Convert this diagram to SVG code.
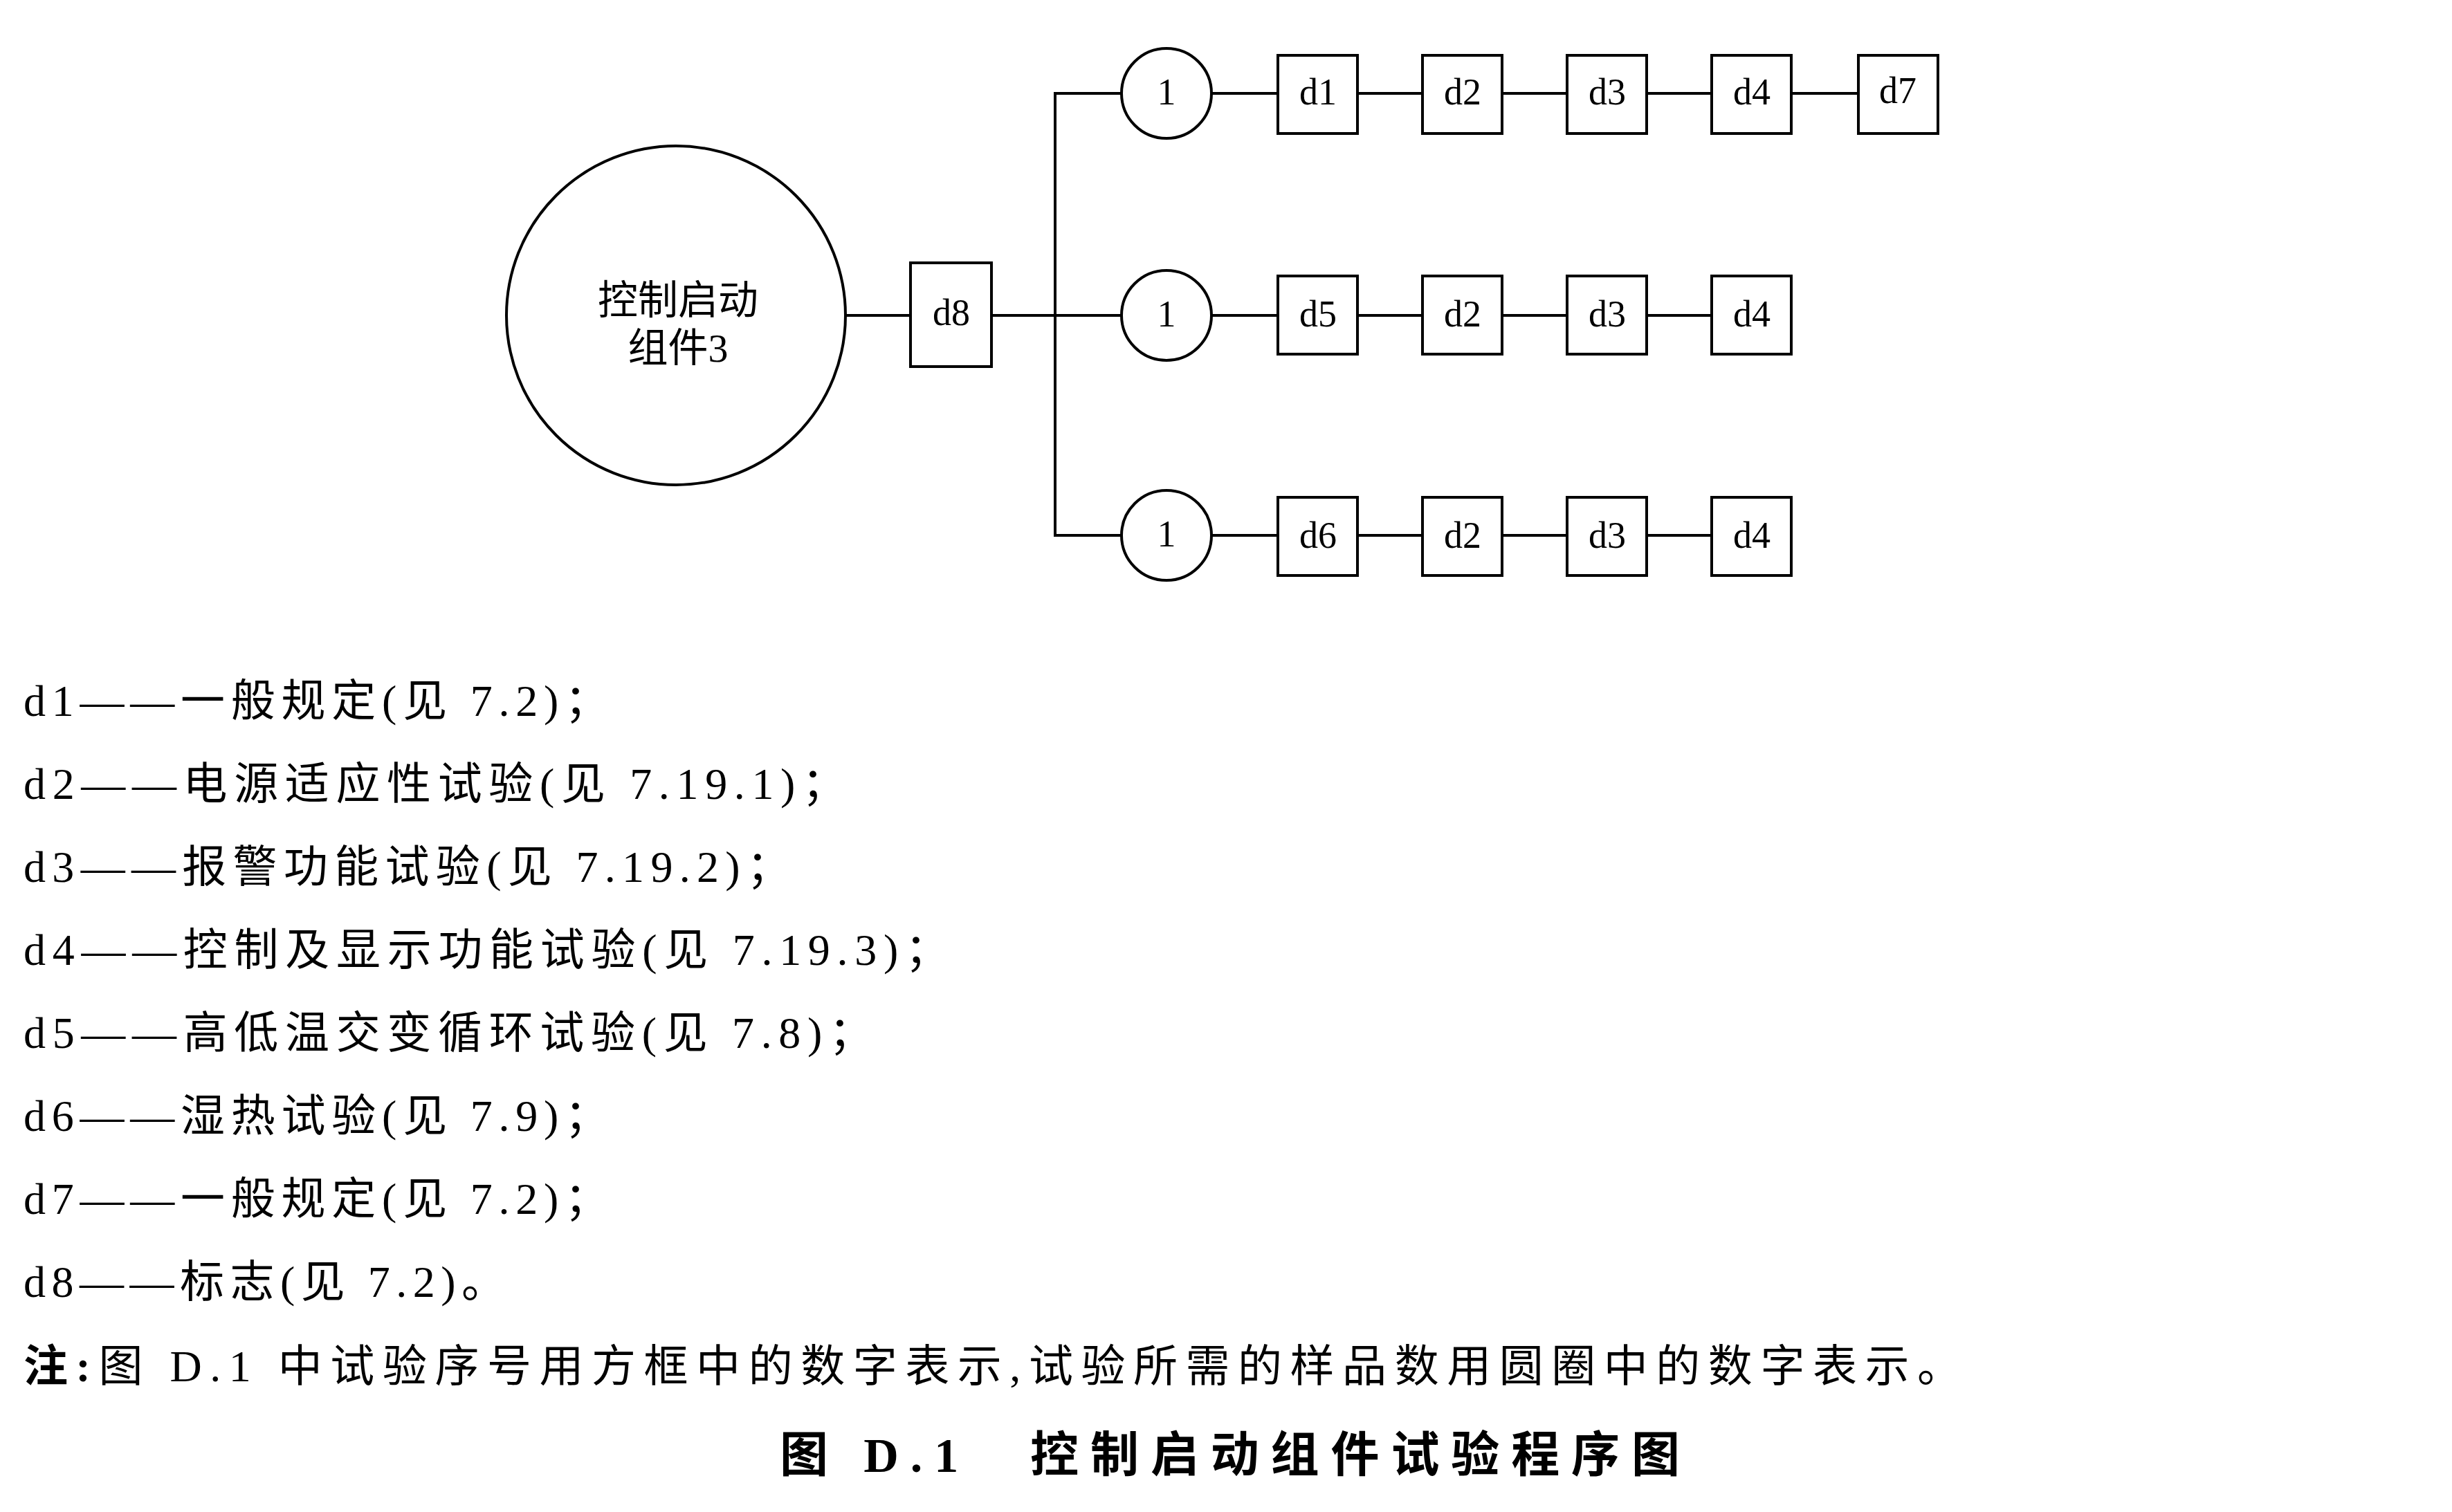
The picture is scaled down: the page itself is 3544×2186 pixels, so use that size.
<svg xmlns="http://www.w3.org/2000/svg" width="3544" height="2186" viewBox="0 0 3544 2186">
<style>
.s{fill:none;stroke:#000;stroke-width:4}
.n{fill:#fff;stroke:#000;stroke-width:4}
.t{font-family:"Liberation Serif","Noto Sans CJK SC",serif;font-size:54px;text-anchor:middle;dominant-baseline:central;fill:#000}
.c{font-family:"Liberation Serif","Noto Sans CJK SC",serif;font-size:58px;text-anchor:middle;fill:#000}
.l{font-family:"Liberation Serif","Noto Sans CJK SC",serif;font-size:64px;fill:#000}
.b{font-family:"Liberation Serif","Noto Sans CJK SC",serif;font-size:70px;font-weight:bold;fill:#000}
</style>
<rect width="3544" height="2186" fill="#fff"/>
<g id="connectors" class="s">
<line x1="1222" y1="456" x2="1316" y2="456"/>
<line x1="1433" y1="456" x2="1621" y2="456"/>
<polyline points="1621,135 1525,135 1525,774 1621,774"/>
<line x1="1751" y1="135" x2="2686" y2="135"/>
<line x1="1751" y1="456" x2="2474" y2="456"/>
<line x1="1751" y1="774" x2="2474" y2="774"/>
</g>
<g id="main"><circle class="n" cx="977" cy="456" r="245"/><text class="c" x="980" y="454">控制启动</text><text class="c" x="980" y="523">组件3</text></g>
<g id="d8"><rect class="n" x="1316" y="380" width="117" height="150"/><text class="t" x="1375" y="452">d8</text></g>
<g id="s1"><circle class="n" cx="1686" cy="135" r="65"/><text class="t" x="1686" y="133">1</text></g>
<g id="s2"><circle class="n" cx="1686" cy="456" r="65"/><text class="t" x="1686" y="454">1</text></g>
<g id="s3"><circle class="n" cx="1686" cy="774" r="65"/><text class="t" x="1686" y="772">1</text></g>
<g id="r1d1"><rect class="n" x="1847" y="80" width="115" height="113"/><text class="t" x="1905" y="133">d1</text></g>
<g id="r1d2"><rect class="n" x="2056" y="80" width="115" height="113"/><text class="t" x="2114" y="133">d2</text></g>
<g id="r1d3"><rect class="n" x="2265" y="80" width="115" height="113"/><text class="t" x="2323" y="133">d3</text></g>
<g id="r1d4"><rect class="n" x="2474" y="80" width="115" height="113"/><text class="t" x="2532" y="133">d4</text></g>
<g id="r1d7"><rect class="n" x="2686" y="80" width="115" height="113"/><text class="t" x="2743" y="131">d7</text></g>
<g id="r2d5"><rect class="n" x="1847" y="399" width="115" height="113"/><text class="t" x="1905" y="454">d5</text></g>
<g id="r2d2"><rect class="n" x="2056" y="399" width="115" height="113"/><text class="t" x="2114" y="454">d2</text></g>
<g id="r2d3"><rect class="n" x="2265" y="399" width="115" height="113"/><text class="t" x="2323" y="454">d3</text></g>
<g id="r2d4"><rect class="n" x="2474" y="399" width="115" height="113"/><text class="t" x="2532" y="454">d4</text></g>
<g id="r3d6"><rect class="n" x="1847" y="719" width="115" height="113"/><text class="t" x="1905" y="774">d6</text></g>
<g id="r3d2"><rect class="n" x="2056" y="719" width="115" height="113"/><text class="t" x="2114" y="774">d2</text></g>
<g id="r3d3"><rect class="n" x="2265" y="719" width="115" height="113"/><text class="t" x="2323" y="774">d3</text></g>
<g id="r3d4"><rect class="n" x="2474" y="719" width="115" height="113"/><text class="t" x="2532" y="774">d4</text></g>
<g id="legend">
<text class="l" x="34" y="1035" textLength="846" lengthAdjust="spacing">d1——一般规定(见 7.2)；</text>
<text class="l" x="34" y="1155" textLength="1189" lengthAdjust="spacing">d2——电源适应性试验(见 7.19.1)；</text>
<text class="l" x="34" y="1275" textLength="1109" lengthAdjust="spacing">d3——报警功能试验(见 7.19.2)；</text>
<text class="l" x="34" y="1395" textLength="1338" lengthAdjust="spacing">d4——控制及显示功能试验(见 7.19.3)；</text>
<text class="l" x="34" y="1515" textLength="1228" lengthAdjust="spacing">d5——高低温交变循环试验(见 7.8)；</text>
<text class="l" x="34" y="1635" textLength="846" lengthAdjust="spacing">d6——湿热试验(见 7.9)；</text>
<text class="l" x="34" y="1755" textLength="846" lengthAdjust="spacing">d7——一般规定(见 7.2)；</text>
<text class="l" x="34" y="1875" textLength="697" lengthAdjust="spacing">d8——标志(见 7.2)。</text>
<text class="l" x="34" y="1997" textLength="2801" lengthAdjust="spacing"><tspan font-weight="bold">注:</tspan>图 D.1 中试验序号用方框中的数字表示,试验所需的样品数用圆圈中的数字表示。</text>
<text class="b" x="1127" y="2128" textLength="1301" lengthAdjust="spacing">图 D.1　控制启动组件试验程序图</text>
</g>
</svg>
